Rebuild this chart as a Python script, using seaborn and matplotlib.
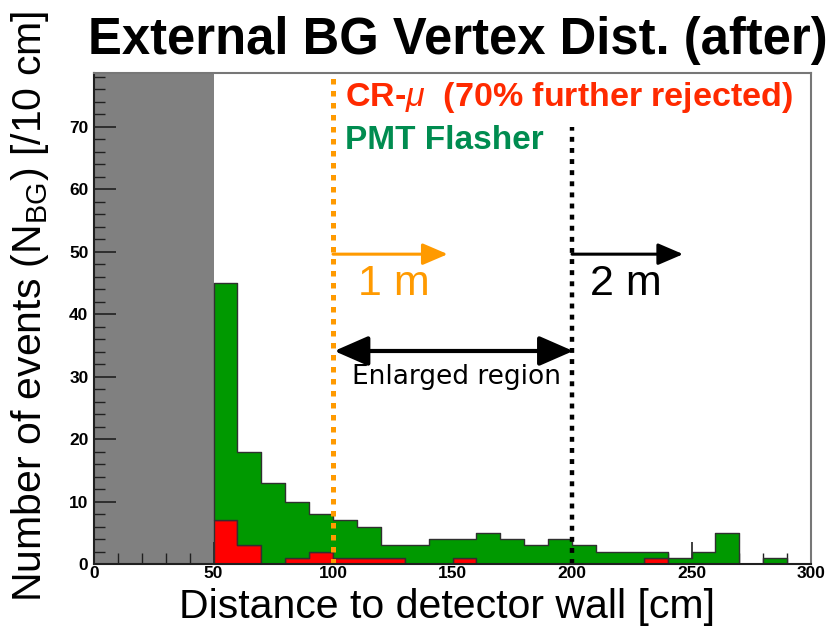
import matplotlib
matplotlib.use("Agg")
import matplotlib.pyplot as plt
import numpy as np
import pandas as pd
import seaborn as sns

# ---- histogram data: events per 10 cm bin, from 50 cm to 300 cm ----
bin_edges = list(range(50, 310, 10))
cr_mu = [7, 3, 0, 1, 2, 1, 1, 1, 0, 0, 1, 0, 0, 0, 0, 0, 0, 0, 1, 0, 0, 0, 0, 0, 0]
pmt_flasher = [38, 15, 13, 9, 6, 6, 5, 2, 3, 4, 3, 5, 4, 3, 4, 3, 2, 2, 1, 1, 2, 5, 0, 1, 0]

x_ticks = [0, 50, 100, 150, 200, 250, 300]
y_ticks = [0, 10, 20, 30, 40, 50, 60, 70]

GREEN = "#009900"
RED = "#ff0000"
ORANGE = "#ff9a00"

centers = [e + 5 for e in bin_edges[:-1]]
df = pd.DataFrame({
    "distance": centers * 2,
    "count": cr_mu + pmt_flasher,
    "source": ["CR-mu"] * len(cr_mu) + ["PMT Flasher"] * len(pmt_flasher),
})

sns.set_theme(style="ticks")
plt.rcParams["font.family"] = ["Liberation Sans", "DejaVu Sans"]
plt.rcParams["text.color"] = "black"
plt.rcParams["xtick.color"] = "black"
plt.rcParams["ytick.color"] = "black"
plt.rcParams["mathtext.fontset"] = "custom"
plt.rcParams["mathtext.rm"] = "Liberation Sans"
plt.rcParams["mathtext.it"] = "Liberation Sans:italic"
plt.rcParams["mathtext.bf"] = "Liberation Sans:bold"

fig = plt.figure(figsize=(8.38, 6.26), dpi=100)
ax = fig.add_axes([0.1122, 0.0990, 0.8556, 0.7844])

# fiducial cut region
ax.axvspan(0, 50, color="#808080", lw=0, zorder=0)

sns.histplot(
    data=df, x="distance", weights="count", hue="source",
    hue_order=["PMT Flasher", "CR-mu"], multiple="stack",
    bins=bin_edges, element="step", fill=True, alpha=1,
    palette={"PMT Flasher": GREEN, "CR-mu": RED},
    edgecolor="#303030", linewidth=1.0, legend=False, ax=ax, zorder=2,
)

ax.set_xlim(0, 300)
ax.set_ylim(0, 78.6)
ax.set_xlabel("")
ax.set_ylabel("")
ax.set_xticks(x_ticks)
ax.set_yticks(y_ticks)
ax.set_xticks(np.arange(0, 301, 10), minor=True)
ax.set_yticks(np.arange(0, 79, 2), minor=True)
ax.tick_params(axis="both", which="major", direction="in", length=16, width=1.2,
               color="#202020", labelcolor="black", labelsize=12.5, pad=4)
ax.tick_params(axis="x", which="major", pad=1.5)
ax.tick_params(axis="both", which="minor", direction="in", length=8, width=1.0,
               color="#202020")
for lab in ax.get_xticklabels() + ax.get_yticklabels():
    lab.set_fontweight("bold")
for side in ("top", "right"):
    ax.spines[side].set_color("#777777")
    ax.spines[side].set_linewidth(1.5)
for side in ("left", "bottom"):
    ax.spines[side].set_color("#202020")
    ax.spines[side].set_linewidth(1.5)
for sp in ax.spines.values():
    sp.set_zorder(5)

# cut lines
ax.plot([100, 100], [0, 78.6], color=ORANGE, lw=3.6, ls=(0, (1.1, 1.3)), zorder=4)
ax.plot([200, 200], [0, 70], color="black", lw=3.2, ls=(0, (1.1, 1.4)), zorder=4)

# distance arrows
ax.annotate("", xy=(148, 49.6), xytext=(100, 49.6),
            arrowprops=dict(arrowstyle="-|>,head_length=0.7,head_width=0.3",
                            color=ORANGE, lw=2.2, mutation_scale=22,
                            shrinkA=0, shrinkB=0))
ax.annotate("", xy=(246.5, 49.6), xytext=(200, 49.6),
            arrowprops=dict(arrowstyle="-|>,head_length=0.7,head_width=0.3",
                            color="black", lw=2.2, mutation_scale=22,
                            shrinkA=0, shrinkB=0))
ax.annotate("", xy=(200.5, 34.1), xytext=(100.5, 34.1),
            arrowprops=dict(arrowstyle="<|-|>,head_length=0.8,head_width=0.35",
                            color="black", lw=3.0, mutation_scale=26,
                            shrinkA=0, shrinkB=0))

ax.text(110.5, 44.8, "1 m", color=ORANGE, fontsize=31, ha="left", va="center")
ax.text(207.5, 44.8, "2 m", color="black", fontsize=31, ha="left", va="center")
ax.text(151.5, 29.9, "Enlarged region", color="black", fontsize=19,
        family=["DejaVu Sans"], ha="center", va="center")

ax.text(105, 74.7, "CR-$\\mathit{\\mu}$  (70% further rejected)", color="#ff2a00",
        fontsize=24.5, fontweight="bold", ha="left", va="center")
ax.text(105, 67.8, "PMT Flasher", color="#008c50",
        fontsize=24, fontweight="bold", ha="left", va="center")

# titles
fig.text(0.546, 0.936, "External BG Vertex Dist. (after)",
         fontweight="bold", fontsize=36.5, ha="center", va="center")
fig.text(0.534, 0.0135, "Distance to detector wall [cm]", fontsize=29.5,
         ha="center", va="baseline")
fig.text(0.036, 0.51, "Number of events (N$_{\\mathrm{BG}}$) [/10 cm]", fontsize=29.5,
         rotation=90, ha="center", va="center")

fig.savefig("out.png", dpi=100)
